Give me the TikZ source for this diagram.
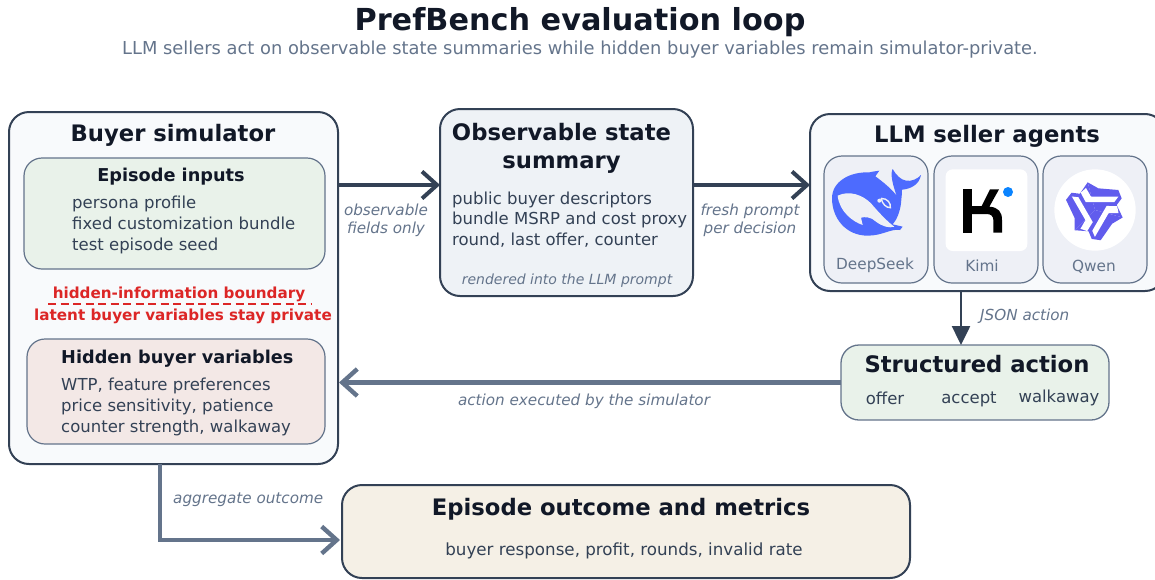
\documentclass[tikz,border=0pt]{standalone}
\usepackage{xcolor}
\usepackage{fontspec}
\setmainfont{DejaVu Sans}
\usetikzlibrary{arrows.meta}

\definecolor{inkdark}{HTML}{111827}
\definecolor{inkbody}{HTML}{334155}
\definecolor{inkmuted}{HTML}{64748B}
\definecolor{edgedark}{HTML}{334155}
\definecolor{alarmred}{HTML}{DC2626}
\definecolor{panelfill}{HTML}{F8FAFC}
\definecolor{statefill}{HTML}{EEF2F6}
\definecolor{greenfill}{HTML}{E9F2EA}
\definecolor{rosefill}{HTML}{F3E8E6}
\definecolor{sandfill}{HTML}{F5F0E6}
\definecolor{agentfill}{HTML}{EEF0F6}
\definecolor{whaleblue}{HTML}{4D6BFE}
\definecolor{qwenpurple}{HTML}{615CED}
\definecolor{kimidot}{HTML}{0A84FF}

\tikzset{
    panel/.style={draw=edgedark, line width=2pt, rounded corners=20pt, inner sep=0pt, outer sep=0pt},
    subpanel/.style={draw=inkmuted, line width=1.2pt, rounded corners=18pt, inner sep=0pt, outer sep=0pt},
    headline/.style={text=inkdark, font=\fontsize{22.7}{28}\selectfont\bfseries, align=center, inner sep=0pt},
    subhead/.style={text=inkdark, font=\fontsize{17.7}{22}\selectfont\bfseries, inner sep=0pt},
    body/.style={text=inkbody, font=\fontsize{16.5}{20.8}\selectfont, align=left, inner sep=0pt},
    note/.style={text=inkmuted, font=\fontsize{15.2}{18}\selectfont\itshape, align=center, inner sep=0pt},
    tag/.style={text=inkmuted, font=\fontsize{15.3}{18}\selectfont, inner sep=0pt},
    warn/.style={text=alarmred, font=\fontsize{15.2}{19}\selectfont\bfseries, inner sep=0pt},
    flowdark/.style={draw=edgedark, line width=4pt, -{Straight Barb[length=15pt,width=27pt,line width=4pt]}},
    flowgray/.style={draw=inkmuted, line width=4.4pt, -{Straight Barb[length=15pt,width=27pt,line width=4.4pt]}}
}

\begin{document}
\begin{tikzpicture}[x=1pt, y=-1pt]
    \useasboundingbox (0,0) rectangle (1155,579);
    \clip (0,0) rectangle (1155,579);

    %% title
    \node[text=inkdark, font=\fontsize{30.3}{36}\selectfont\bfseries, inner sep=0pt] (title) at (580,22) {PrefBench evaluation loop};
    \node[text=inkmuted, font=\fontsize{17.85}{21}\selectfont, inner sep=0pt] (subtitle) at (580,49.5) {LLM sellers act on observable state summaries while hidden buyer variables remain simulator-private.};

    %% buyer simulator
    \node[panel, fill=panelfill, minimum width=329pt, minimum height=352pt] (buyer) at (173.5,288) {};
    \node[headline] (buyertitle) at (173,135) {Buyer simulator};

    \node[subpanel, fill=greenfill, minimum width=301pt, minimum height=111pt] (inputs) at (174.5,213.5) {};
    \node[subhead] (inputstitle) at (171,177) {Episode inputs};
    \node[body, anchor=west] (inputstext) at (72,225) {persona profile\\fixed customization bundle\\test episode seed};

    \node[warn] (boundary) at (179,294) {hidden-information boundary};
    \coordinate (boundaryl) at (48,304);
    \coordinate (boundaryr) at (312,304);
    \draw[alarmred, line width=1.5pt, dash pattern=on 8pt off 4.5pt] (boundaryl) -- (boundaryr);
    \node[warn] (private) at (183,316.5) {latent buyer variables stay private};

    \node[subpanel, fill=rosefill, minimum width=298pt, minimum height=105pt] (hidden) at (176,391.5) {};
    \node[subhead, anchor=west] (hiddentitle) at (61,359) {Hidden buyer variables};
    \node[body, anchor=west] (hiddentext) at (61,407) {WTP, feature preferences\\price sensitivity, patience\\counter strength, walkaway};

    %% observable state
    \node[panel, fill=statefill, minimum width=253pt, minimum height=187pt] (state) at (566.5,202.5) {};
    \node[headline] (statetitle) at (561.5,148) {Observable state\\summary};
    \node[body, anchor=west] (statetext) at (452,219.5) {public buyer descriptors\\bundle MSRP and cost proxy\\round, last offer, counter};
    \node[note, font=\fontsize{14}{18}\selectfont\itshape] (stateprompt) at (567,280.5) {rendered into the LLM prompt};

    %% seller agents
    \node[panel, fill=panelfill, minimum width=355pt, minimum height=177pt] (llm) at (987.5,202.5) {};
    \node[headline] (llmtitle) at (987,136) {LLM seller agents};
    \node[subpanel, fill=agentfill, minimum width=104pt, minimum height=127pt] (deepseek) at (876,219.5) {};
    \node[subpanel, fill=agentfill, minimum width=104pt, minimum height=127pt] (kimi) at (986,219.5) {};
    \node[subpanel, fill=agentfill, minimum width=104pt, minimum height=127pt] (qwen) at (1095,219.5) {};
    \node[tag] (deepseektag) at (875,265) {DeepSeek};
    \node[tag] (kimitag) at (982,266) {Kimi};
    \node[tag] (qwentag) at (1094,267) {Qwen};

    %% whale logo
    \begin{scope}[shift={(826,165)}, scale=1/3]
        \fill[whaleblue] (18,100) .. controls (18,50) and (70,20) .. (130,22) .. controls (140,20) and (150,18) .. (160,17)
            -- (148,34) .. controls (170,50) and (195,70) .. (212,92) .. controls (200,60) and (192,25) .. (200,12)
            .. controls (210,30) and (225,45) .. (240,47) .. controls (255,50) and (275,42) .. (285,30)
            .. controls (280,58) and (255,72) .. (228,74) .. controls (228,90) and (226,100) .. (225,115)
            .. controls (222,140) and (212,165) .. (200,178) -- (230,185) -- (222,195)
            .. controls (195,190) and (170,212) .. (125,212) .. controls (60,212) and (18,160) .. (18,100) -- cycle;
        \fill[agentfill] (35,92) .. controls (70,75) and (110,90) .. (135,115) .. controls (160,145) and (190,175) .. (205,185)
            .. controls (190,190) and (170,185) .. (150,170) .. controls (135,155) and (115,155) .. (105,158)
            -- (110,180) .. controls (80,170) and (40,140) .. (35,92) -- cycle;
        \fill[agentfill] (160,107) circle (6);
        \draw[agentfill, line width=1.4pt] (165,100) .. controls (185,100) and (195,115) .. (193,128) .. controls (180,128) and (170,118) .. (165,100);
    \end{scope}

    %% k logo
    \begin{scope}[shift={(810,110)}, scale=1/3]
        \fill[white, rounded corners=7pt] (407,178) rectangle (652,423);
        \fill[black] (459,238) rectangle (485,368);
        \fill[black] (485,288) -- (515,288) -- (540,238) -- (567,238) -- (538,290) .. controls (565,292) and (576,305) .. (576,330)
            -- (576,368) -- (550,368) -- (550,330) .. controls (550,318) and (542,312) .. (530,312) -- (485,312) -- cycle;
        \fill[kimidot] (594,246) circle (15);
    \end{scope}

    %% star logo
    \begin{scope}[shift={(1050,165)}, scale=1/3]
        \fill[white] (135,135) circle (122);
        \foreach \a in {0,120,240} {
            \begin{scope}[shift={(135,135)}, rotate=\a]
                \fill[qwenpurple] (0,0) -- (-22,-83) -- (10,-65) -- (70,-60) -- (80,-35) -- (65,-15) -- (83,22.5) -- cycle;
            \end{scope}
        }
        \foreach \a in {0,120,240} {
            \begin{scope}[shift={(135,135)}, rotate=\a]
                \fill[white] (-27,-66) -- (-12,-40) -- (70,-40) -- (58,-24) -- (-28,-24) -- (-43,-52) -- cycle;
            \end{scope}
        }
    \end{scope}

    %% structured action
    \node[subpanel, line width=1.3pt, fill=greenfill, minimum width=268pt, minimum height=75pt] (action) at (975,382.5) {};
    \node[headline] (actiontitle) at (977,364) {Structured action};
    \node[body] (offer) at (885,398) {offer};
    \node[body] (accept) at (969,399) {accept};
    \node[body] (walkaway) at (1059,398) {walkaway};

    %% outcome
    \node[panel, fill=sandfill, minimum width=568pt, minimum height=93pt] (outcome) at (626,531.5) {};
    \node[headline] (outcometitle) at (621,509.5) {Episode outcome and metrics};
    \node[body, font=\fontsize{16.7}{19}\selectfont] (outcometext) at (624,551) {buyer response, profit, rounds, invalid rate};

    %% connectors
    \coordinate (toprow) at (0,185);
    \coordinate (jsoncol) at (961,0);
    \coordinate (downcol) at (160,0);
    \coordinate (outrow) at (0,540);
    \draw[flowdark] (buyer.east |- toprow) -- (state.west |- toprow);
    \draw[flowdark] (state.east |- toprow) -- (llm.west |- toprow);
    \draw[draw=edgedark, line width=2.5pt, -{Triangle[length=19pt,width=18pt]}] (llm.south -| jsoncol) -- (action.north -| jsoncol);
    \draw[flowgray] (action.west) -- ([xshift=1pt]buyer.east |- action.west);
    \draw[flowgray] (buyer.south -| downcol) |- ([xshift=-2pt]outcome.west |- outrow);

    \node[note] (fieldsnote) at (386,220.5) {observable\\fields only};
    \node[note] (freshnote) at (750,220.5) {fresh prompt\\per decision};
    \node[note, anchor=west] (jsonnote) at (980,316.5) {JSON action};
    \node[note] (executednote) at (584,401.5) {action executed by the simulator};
    \node[note, anchor=west] (aggregatenote) at (173,499.5) {aggregate outcome};
\end{tikzpicture}
\end{document}
